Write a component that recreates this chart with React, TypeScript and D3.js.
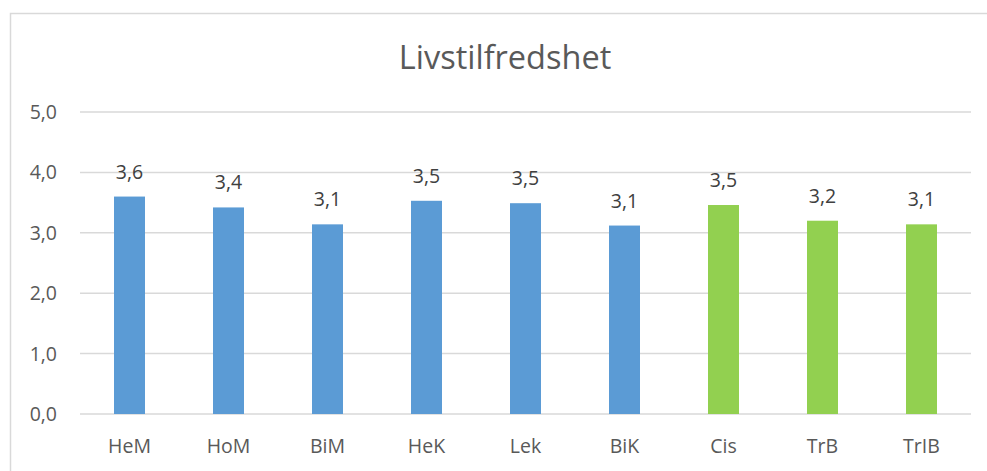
import * as d3 from "d3";
import { useEffect, useRef } from "react";

const categories = ["HeM", "HoM", "BiM", "HeK", "Lek", "BiK", "Cis", "TrB", "TrIB"];
const values = [3.6, 3.42, 3.14, 3.53, 3.49, 3.12, 3.46, 3.2, 3.14];
const groups = ["blue", "blue", "blue", "blue", "blue", "blue", "green", "green", "green"];
const yTicks = [0, 1, 2, 3, 4, 5];
const title = "Livstilfredshet";

export default function App() {
  const ref = useRef<SVGSVGElement>(null);

  const width = 987;
  const height = 471;
  const marginTop = 112;
  const marginRight = 16;
  const marginBottom = 57;
  const marginLeft = 80;

  useEffect(() => {
    const svg = d3.select(ref.current);
    svg.selectAll("*").remove();

    const font = "'Open Sans', 'Noto Sans', sans-serif";
    const textColor = "#595959";
    const colors: Record<string, string> = { blue: "#5b9bd5", green: "#92d050" };

    // chart area border
    svg
      .append("rect")
      .attr("x", 10.5)
      .attr("y", 13.5)
      .attr("width", width)
      .attr("height", height)
      .attr("fill", "white")
      .attr("stroke", "#d9d9d9")
      .attr("stroke-width", 1.5);

    const x = d3
      .scaleBand()
      .domain(categories)
      .range([marginLeft, width - marginRight])
      .paddingInner(0.687)
      .paddingOuter(0.3435);

    const y = d3
      .scaleLinear()
      .domain([0, 5])
      .range([height - marginBottom, marginTop]);

    // gridlines
    svg
      .append("g")
      .selectAll("line")
      .data(yTicks)
      .join("line")
      .attr("x1", marginLeft)
      .attr("x2", width - marginRight)
      .attr("y1", (d) => y(d))
      .attr("y2", (d) => y(d))
      .attr("stroke", "#d9d9d9")
      .attr("stroke-width", 1.5);

    // y tick labels
    svg
      .append("g")
      .selectAll("text")
      .data(yTicks)
      .join("text")
      .attr("x", 57)
      .attr("y", (d) => y(d))
      .attr("dy", "0.36em")
      .attr("text-anchor", "end")
      .attr("font-family", font)
      .attr("font-size", 19.5)
      .attr("fill", textColor)
      .text((d) => d3.format(".1f")(d).replace(".", ","));

    const data = categories.map((c, i) => ({ cat: c, value: values[i], group: groups[i] }));

    // bars
    svg
      .append("g")
      .selectAll("rect")
      .data(data)
      .join("rect")
      .attr("x", (d) => x(d.cat)!)
      .attr("width", x.bandwidth())
      .attr("y", (d) => y(d.value))
      .attr("height", (d) => y(0) - y(d.value))
      .attr("fill", (d) => colors[d.group]);

    // value labels
    svg
      .append("g")
      .selectAll("text")
      .data(data)
      .join("text")
      .attr("x", (d) => x(d.cat)! + x.bandwidth() / 2)
      .attr("y", (d) => y(d.value) - 18)
      .attr("text-anchor", "middle")
      .attr("font-family", font)
      .attr("font-size", 19.5)
      .attr("fill", "#404040")
      .text((d) => d3.format(".1f")(d.value).replace(".", ","));

    // category labels
    svg
      .append("g")
      .selectAll("text")
      .data(categories)
      .join("text")
      .attr("x", (d) => x(d)! + x.bandwidth() / 2)
      .attr("y", 453)
      .attr("text-anchor", "middle")
      .attr("font-family", font)
      .attr("font-size", 19.5)
      .attr("fill", textColor)
      .text((d) => d);

    // title
    svg
      .append("text")
      .attr("x", 505)
      .attr("y", 69)
      .attr("text-anchor", "middle")
      .attr("font-family", font)
      .attr("font-size", 32.5)
      .attr("fill", textColor)
      .text(title);
  }, []);

  return (
    <svg
      ref={ref}
      width={width}
      height={height}
      style={{ position: "absolute", left: 0, top: 0, background: "white" }}
    />
  );
}
